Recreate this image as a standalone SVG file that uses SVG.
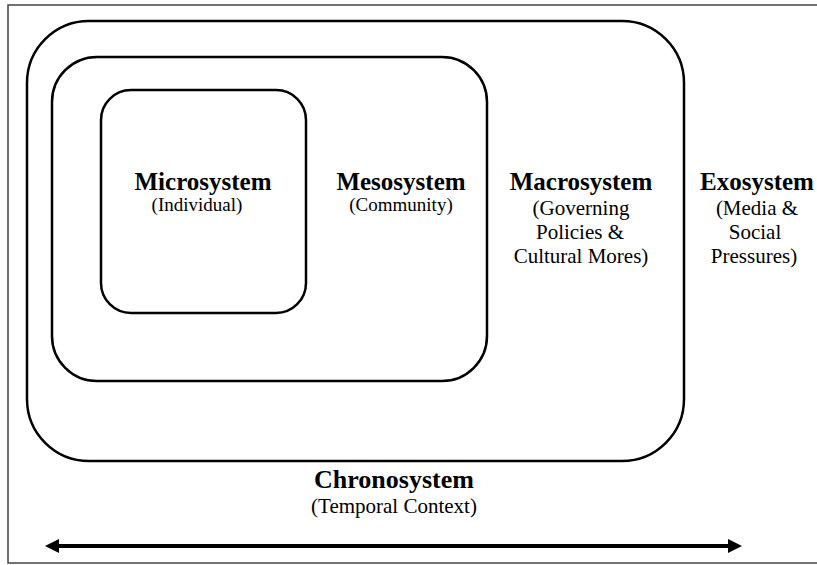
<svg xmlns="http://www.w3.org/2000/svg" width="817" height="565" viewBox="0 0 817 565">
<style>
.frame{fill:none;stroke:#444;stroke-width:1.5}
.box{fill:none;stroke:#000;stroke-width:2.5}
.t{font-family:"Liberation Serif","Times New Roman",serif;font-weight:bold;font-size:25px;fill:#000;text-anchor:middle}
.s{font-family:"Liberation Serif","Times New Roman",serif;font-size:19px;fill:#000;text-anchor:middle}
.s2{font-family:"Liberation Serif","Times New Roman",serif;font-size:21px;fill:#000;text-anchor:middle}
.arrow{stroke:#000;stroke-width:4}
</style>
<rect fill="#fff" width="817" height="565"/>
<rect class="frame" x="8" y="5" width="820" height="558"/>
<g id="exosystem">
<text class="t" x="757" y="190">Exosystem</text>
<text class="s2" x="757" y="215">(Media &amp;</text>
<text class="s2" x="755" y="239">Social</text>
<text class="s2" x="754" y="263">Pressures)</text>
</g>
<g id="macrosystem">
<rect class="box" x="27" y="21" width="657" height="440" rx="62" ry="62"/>
<text class="t" x="581" y="190">Macrosystem</text>
<text class="s2" x="581" y="215">(Governing</text>
<text class="s2" x="580" y="239">Policies &amp;</text>
<text class="s2" x="581" y="263">Cultural Mores)</text>
</g>
<g id="mesosystem">
<rect class="box" x="52" y="57" width="435" height="324" rx="45" ry="45"/>
<text class="t" x="401" y="190">Mesosystem</text>
<text class="s" x="401" y="211">(Community)</text>
</g>
<g id="microsystem">
<rect class="box" x="101" y="90" width="205" height="223" rx="30" ry="30"/>
<text class="t" x="203" y="190">Microsystem</text>
<text class="s" x="197" y="211">(Individual)</text>
</g>
<g id="chronosystem">
<text class="t" x="394" y="488" style="font-size:26px">Chronosystem</text>
<text class="s2" x="394" y="513">(Temporal Context)</text>
</g>
<g id="connectors">
<line class="arrow" x1="56" y1="546" x2="731" y2="546"/>
<polygon points="45,546 59,539 59,553"/>
<polygon points="742,546 728,539 728,553"/>
</g>
</svg>
